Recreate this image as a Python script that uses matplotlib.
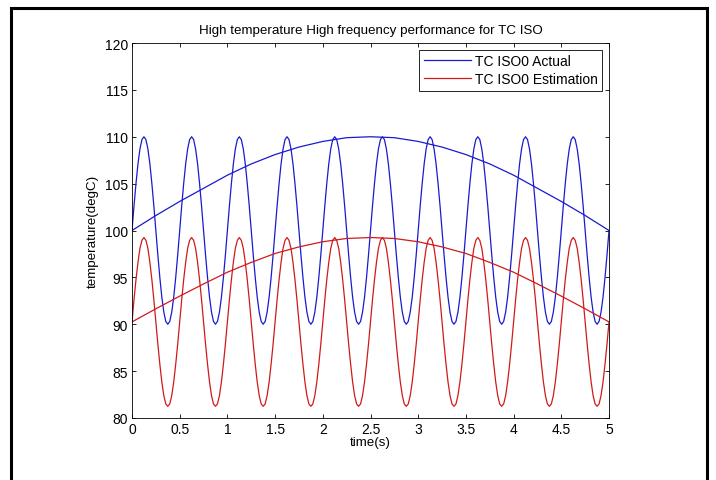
import numpy as np
import matplotlib
matplotlib.use("Agg")
import matplotlib.pyplot as plt
from matplotlib.patches import Rectangle

plt.rcParams['font.family'] = ['Liberation Sans', 'DejaVu Sans']

# one period (0.5 s) of the fast signals, 24 samples
actual_cycle = [100, 102.6, 105, 107.1, 108.7, 109.7, 110, 109.7, 108.7, 107.1, 105, 102.6,
                100, 97.4, 95, 92.9, 91.3, 90.3, 90, 90.3, 91.3, 92.9, 95, 97.4]
estim_cycle = [90.25, 92.6, 94.75, 96.6, 98.1, 98.95, 99.25, 98.95, 98.1, 96.6, 94.75, 92.6,
               90.25, 87.9, 85.75, 83.85, 82.4, 81.5, 81.25, 81.5, 82.4, 83.85, 85.75, 87.9]
n_cycles = 10

# slow envelope curves, every 0.25 s from 0 to 5
slow_t = [0, 0.25, 0.5, 0.75, 1, 1.25, 1.5, 1.75, 2, 2.25, 2.5,
          2.75, 3, 3.25, 3.5, 3.75, 4, 4.25, 4.5, 4.75, 5]
actual_slow = [100, 101.6, 103.1, 104.5, 105.9, 107.1, 108.1, 108.9, 109.5, 109.9, 110,
               109.9, 109.5, 108.9, 108.1, 107.1, 105.9, 104.5, 103.1, 101.6, 100]
estim_slow = [90.25, 91.65, 93.0, 94.3, 95.55, 96.6, 97.55, 98.25, 98.8, 99.15, 99.25,
              99.15, 98.8, 98.25, 97.55, 96.6, 95.55, 94.3, 93.0, 91.65, 90.25]

actual_fast = list(actual_cycle) * n_cycles + [actual_cycle[0]]
estim_fast = list(estim_cycle) * n_cycles + [estim_cycle[0]]
fast_t = np.linspace(0, 5, len(actual_fast))

W, H = 716, 481
fig = plt.figure(figsize=(W / 100, H / 100), dpi=100)
ax = fig.add_axes([132 / W, 1 - 419 / H, (609 - 132) / W, (419 - 44) / H])

blue = '#1a1ad0'
red = '#d01a1a'
ax.plot(fast_t, actual_fast, color=blue, lw=0.9, label='TC ISO0 Actual')
ax.plot(fast_t, estim_fast, color=red, lw=0.9, label='TC ISO0 Estimation')
ax.plot(slow_t, actual_slow, color=blue, lw=0.9)
ax.plot(slow_t, estim_slow, color=red, lw=0.9)

ax.set_xlim(0, 5)
ax.set_ylim(80, 120)
ax.set_xticks(np.arange(0, 5.01, 0.5))
ax.set_xticklabels(['0', '0.5', '1', '1.5', '2', '2.5', '3', '3.5', '4', '4.5', '5'])
ax.set_yticks(np.arange(80, 121, 5))
ax.tick_params(direction='in', length=3, width=0.6, top=True, right=True,
               labelsize=10, pad=3)
for s in ax.spines.values():
    s.set_linewidth(0.6)

ax.set_title('High temperature High frequency performance for TC ISO', fontsize=9.6, pad=7)
ax.set_xlabel('time(s)', fontsize=9.6, labelpad=0)
ax.set_ylabel('temperature(degC)', fontsize=9.6, labelpad=4)

leg = ax.legend(loc='upper right', bbox_to_anchor=(602 / W, 1 - 51 / H),
                bbox_transform=fig.transFigure, borderaxespad=0, fontsize=10,
                handlelength=3.4, handletextpad=0.3, fancybox=False, framealpha=1,
                edgecolor='black', borderpad=0.3, labelspacing=0.3)
leg.get_frame().set_linewidth(0.6)

# outer black frame of the screenshot
fig.patches.append(Rectangle((10.5 / W, -0.1), (707 - 10.5) / W, 1.1 - 9 / H,
                             transform=fig.transFigure, fill=False,
                             edgecolor='black', lw=2.2))

fig.savefig('out.png', dpi=100, facecolor='white')
